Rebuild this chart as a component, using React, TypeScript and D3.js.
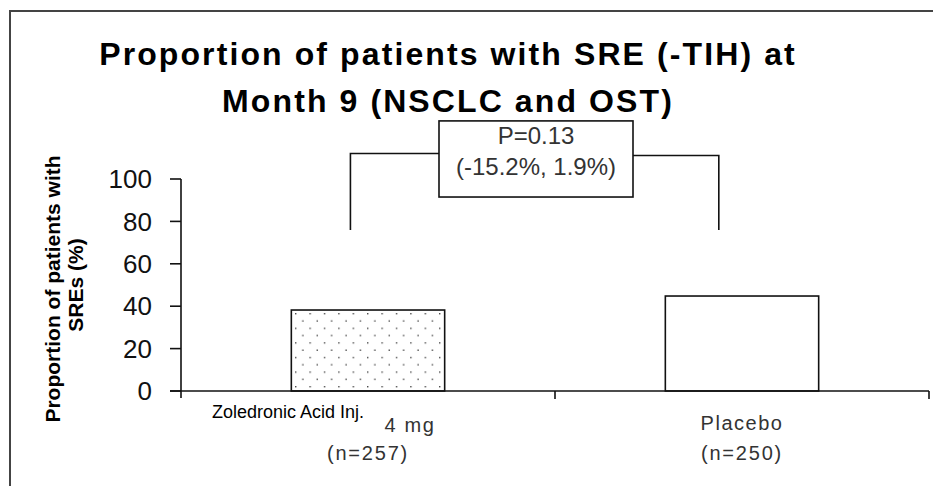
import React from 'react';
import * as d3 from 'd3';

// chart data
const categories = ['Zoledronic Acid Inj. 4 mg', 'Placebo'];
const values = [38.2, 44.8];
const groupSizes = ['(n=257)', '(n=250)'];
const yTicks = [0, 20, 40, 60, 80, 100];
const titleLines = ['Proportion of patients with SRE (-TIH) at', 'Month 9 (NSCLC and OST)'];
const yLabelLines = ['Proportion of patients with', 'SREs (%)'];
const pValueLines = ['P=0.13', '(-15.2%, 1.9%)'];

const W = 933;
const H = 486;

const App: React.FC = () => {
  const y = d3.scaleLinear().domain([0, 100]).range([391, 179]);
  const x = d3.scaleBand<string>().domain(categories).range([181, 929]).paddingInner(0);
  const bw = x.bandwidth();
  const barW = bw * 0.41;

  // bracket / p-value box
  const bx1 = (x(categories[0]) as number) + bw * 0.453;
  const bx2 = (x(categories[1]) as number) + bw * 0.438;
  const boxL = 439;
  const boxR = 633;
  const bracketTop = y(112);
  const bracketBottom = y(76);
  const boxTop = y(127.4);
  const boxBottom = y(91.5);

  const font = 'Arial, "Liberation Sans", sans-serif';

  return (
    <svg width={W} height={H} style={{ position: 'absolute', left: 0, top: 0, background: '#fff' }}>
      <defs>
        <pattern id="dots" width={14.4} height={14.6} patternUnits="userSpaceOnUse" x={295} y={313}>
          <rect width={14.4} height={14.6} fill="#fff" />
          <rect x={0} y={0} width={1.4} height={1.4} fill="#4a4a4a" />
          <rect x={7.2} y={7.3} width={1.4} height={1.4} fill="#4a4a4a" />
        </pattern>
      </defs>

      {/* outer frame, open to the right and bottom */}
      <path d={`M10,${H + 5} V11 H${W + 5}`} fill="none" stroke="#444" strokeWidth={2} />

      {/* title */}
      <g fontFamily={font} fontWeight="bold" fontSize={32} letterSpacing={2.1} textAnchor="middle" fill="#000">
        <text x={448} y={65}>{titleLines[0]}</text>
        <text x={448} y={112}>{titleLines[1]}</text>
      </g>

      {/* y axis label */}
      <g fontFamily={font} fontWeight="bold" fontSize={21} textAnchor="middle" fill="#000">
        <text transform="translate(60,289) rotate(-90)">{yLabelLines[0]}</text>
        <text transform="translate(83,285) rotate(-90)">{yLabelLines[1]}</text>
      </g>

      {/* y axis */}
      <line x1={181} x2={181} y1={y(100)} y2={398} stroke="#111" strokeWidth={1.6} />
      {yTicks.map((t) => (
        <g key={t}>
          <line x1={170} x2={181} y1={y(t)} y2={y(t)} stroke="#111" strokeWidth={1.6} />
          <text x={152} y={y(t)} dy="0.35em" textAnchor="end" fontFamily={font} fontSize={26} fill="#111">
            {t}
          </text>
        </g>
      ))}

      {/* bars */}
      {categories.map((c, i) => (
        <rect
          key={c}
          x={(x(c) as number) + (bw - barW) / 2}
          y={y(values[i])}
          width={barW}
          height={y(0) - y(values[i])}
          fill={i === 0 ? 'url(#dots)' : '#fff'}
          stroke="#111"
          strokeWidth={1.6}
        />
      ))}

      {/* x axis */}
      <line x1={170} x2={929} y1={y(0)} y2={y(0)} stroke="#111" strokeWidth={1.6} />
      {[...categories.map((c) => x(c) as number), 929].slice(1).map((px) => (
        <line key={px} x1={px} x2={px} y1={y(0)} y2={399} stroke="#111" strokeWidth={1.6} />
      ))}

      {/* category labels */}
      <g fontFamily={font} fill="#333">
        <text x={212} y={418} fontSize={18} fill="#000">Zoledronic Acid Inj.</text>
        <text x={410} y={432} fontSize={20} letterSpacing={1.6} textAnchor="middle">4 mg</text>
        <text x={(x(categories[1]) as number) + bw / 2} y={430} fontSize={20} letterSpacing={1.5} textAnchor="middle">
          {categories[1]}
        </text>
        {categories.map((c, i) => (
          <text key={c} x={(x(c) as number) + bw / 2} y={460} fontSize={20} letterSpacing={1.8} textAnchor="middle">
            {groupSizes[i]}
          </text>
        ))}
      </g>

      {/* significance bracket */}
      <g fill="none" stroke="#111" strokeWidth={1.6}>
        <path d={`M${bx1},${bracketBottom} V${bracketTop} H${boxL}`} />
        <path d={`M${boxR},${bracketTop + 2} H${bx2} V${bracketBottom}`} />
        <rect x={boxL} y={boxTop} width={boxR - boxL} height={boxBottom - boxTop} fill="#fff" />
      </g>
      <g fontFamily={font} fontSize={24} textAnchor="middle" fill="#333">
        <text x={(boxL + boxR) / 2} y={144}>{pValueLines[0]}</text>
        <text x={(boxL + boxR) / 2} y={175}>{pValueLines[1]}</text>
      </g>
    </svg>
  );
};

export default App;
